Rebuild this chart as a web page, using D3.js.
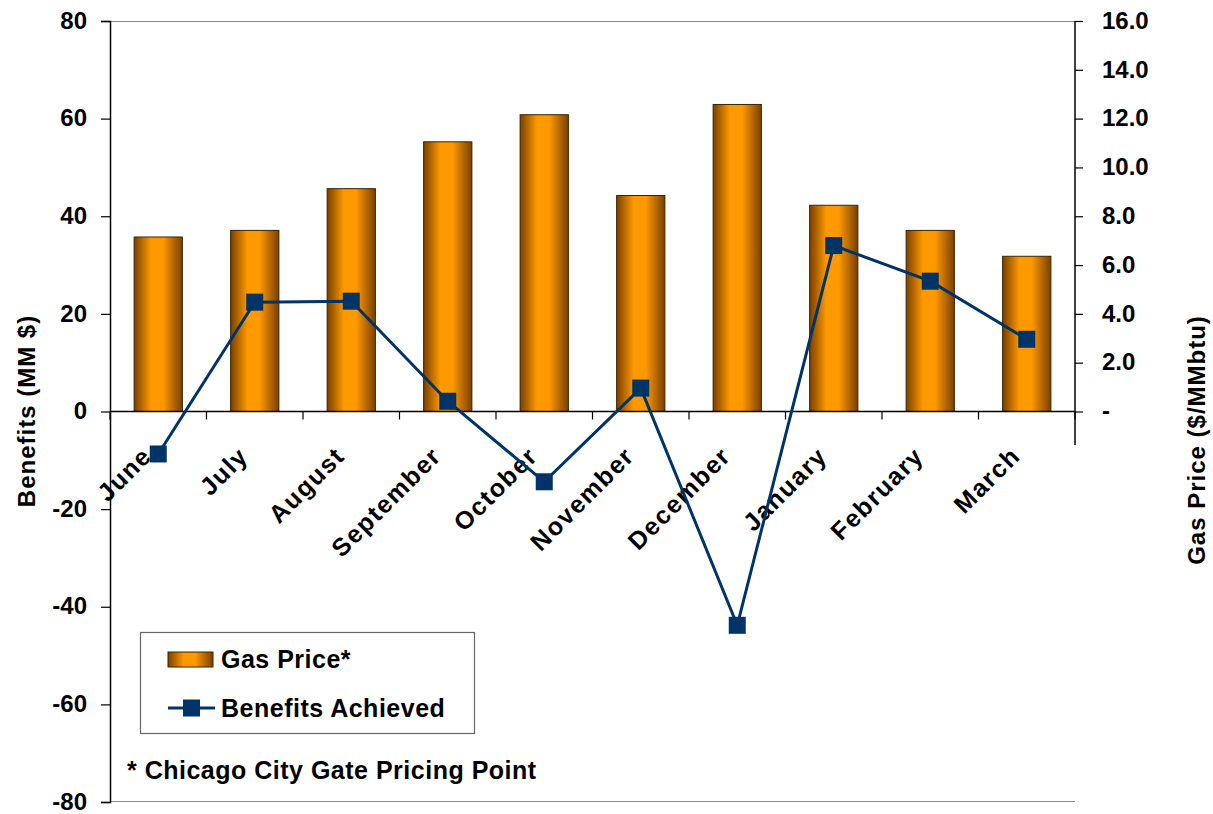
<!DOCTYPE html>
<html><head><meta charset="utf-8">
<script src="https://cdn.jsdelivr.net/npm/d3@7/dist/d3.min.js"></script>
<style>
html,body{margin:0;padding:0;background:#fff;}
text{font-family:"Liberation Sans",Arial,sans-serif;font-weight:bold;fill:#000;}
</style></head>
<body>
<svg id="c" width="1213" height="814"></svg>
<script>
const months = ["June","July","August","September","October","November","December","January","February","March"];
const gasPrice = [7.15, 7.42, 9.13, 11.05, 12.16, 8.85, 12.58, 8.45, 7.42, 6.36];
const benefits = [-8.7, 22.4, 22.6, 2.1, -14.4, 4.8, -43.8, 34.0, 26.7, 14.8];
const leftTicks = [-80,-60,-40,-20,0,20,40,60,80];
const rightTicks = [0,2,4,6,8,10,12,14,16];

const svg = d3.select("#c");
const L = 110, R = 1075, T = 21, B = 802;
const x = d3.scaleBand().domain(months).range([L, R]).padding(0);
const yL = d3.scaleLinear().domain([-80, 80]).range([B, T]);
const yR = d3.scaleLinear().domain([0, 16]).range([yL(0), T]);

const defs = svg.append("defs");
const g1 = defs.append("linearGradient").attr("id","bar").attr("x1","0").attr("x2","1").attr("y1","0").attr("y2","0");
[[0,"#7a4000"],[0.35,"#ff9900"],[0.6,"#ff9900"],[1,"#7a4000"]].forEach(s=>g1.append("stop").attr("offset",s[0]).attr("stop-color",s[1]));

// plot border lines (top/bottom)
svg.append("line").attr("x1",L).attr("x2",R).attr("y1",T+0.5).attr("y2",T+0.5).attr("stroke","#888").attr("stroke-width",1.2);
svg.append("line").attr("x1",L).attr("x2",R).attr("y1",B-0.5).attr("y2",B-0.5).attr("stroke","#888").attr("stroke-width",1.2);

// bars
const bw = x.bandwidth();
svg.append("g").selectAll("rect").data(months).join("rect")
  .attr("x", d => x(d) + bw*0.25)
  .attr("width", bw*0.5)
  .attr("y", (d,i) => yR(gasPrice[i]))
  .attr("height", (d,i) => yR(0) - yR(gasPrice[i]))
  .attr("fill","url(#bar)")
  .attr("stroke","#3a2400").attr("stroke-width",1);

function styleTicks(sel){
  sel.selectAll(".tick text").style("font-size","24px").style("font-family","Liberation Sans, Arial, sans-serif").style("font-weight","bold").attr("fill","#000").attr("dy","0.3em");
  sel.selectAll(".tick line").attr("stroke","#000").attr("stroke-width",1.2);
}
// left axis
const la = svg.append("g").attr("transform",`translate(${L},0)`)
  .call(d3.axisLeft(yL).tickValues(leftTicks).tickSize(9).tickPadding(14).tickFormat(d => String(d)));
la.select(".domain").attr("stroke","#000").attr("stroke-width",1.5);
styleTicks(la);

// right axis
const ra = svg.append("g").attr("transform",`translate(${R},0)`)
  .call(d3.axisRight(yR).tickValues(rightTicks).tickSize(8).tickPadding(19).tickFormat(d => d === 0 ? "-" : d3.format(".1f")(d)));
ra.select(".domain").remove();
ra.append("line").attr("x1",0).attr("x2",0).attr("y1",T).attr("y2",445).attr("stroke","#000").attr("stroke-width",1.5);
styleTicks(ra);

// category axis at 0
const y0 = yL(0);
svg.append("line").attr("x1",L).attr("x2",R).attr("y1",y0).attr("y2",y0).attr("stroke","#000").attr("stroke-width",1.5);
const bounds = d3.range(months.length+1).map(i => L + i*x.step());
svg.append("g").selectAll("line").data(bounds).join("line")
  .attr("x1",d=>d).attr("x2",d=>d).attr("y1",y0).attr("y2",y0+8).attr("stroke","#000").attr("stroke-width",1.2);
svg.append("g").selectAll("text").data(months).join("text")
  .attr("transform", d => `translate(${x(d)+bw/2-5},${y0+46}) rotate(-45)`)
  .attr("text-anchor","end")
  .style("font-size","25px").style("letter-spacing","1.5px")
  .text(d => d);

// line series
const line = d3.line().x((d,i)=>x(months[i])+bw/2).y(d=>yL(d));
svg.append("path").datum(benefits).attr("d", line).attr("fill","none").attr("stroke","#003366").attr("stroke-width",3);
svg.append("g").selectAll("rect").data(benefits).join("rect")
  .attr("x",(d,i)=>x(months[i])+bw/2-8.5).attr("y",d=>yL(d)-8.5)
  .attr("width",17).attr("height",17).attr("fill","#003366");

// axis titles
svg.append("text").attr("transform",`translate(35,411) rotate(-90)`).attr("text-anchor","middle").style("font-size","24px").style("letter-spacing","1px").text("Benefits (MM $)");
svg.append("text").attr("transform",`translate(1205,440) rotate(-90)`).attr("text-anchor","middle").style("font-size","24px").style("letter-spacing","1px").text("Gas Price ($/MMbtu)");

// legend
const lg = svg.append("g");
lg.append("rect").attr("x",140.5).attr("y",632.5).attr("width",334).attr("height",101).attr("fill","#fff").attr("stroke","#666").attr("stroke-width",1.2);
lg.append("rect").attr("x",168).attr("y",652).attr("width",45).attr("height",15).attr("fill","url(#bar)").attr("stroke","#3a2400");
lg.append("text").attr("x",221).attr("y",668).style("font-size","25px").style("letter-spacing","0.5px").text("Gas Price*");
lg.append("line").attr("x1",168).attr("x2",215).attr("y1",708).attr("y2",708).attr("stroke","#003366").attr("stroke-width",3);
lg.append("rect").attr("x",183).attr("y",699.5).attr("width",17).attr("height",17).attr("fill","#003366");
lg.append("text").attr("x",221).attr("y",717).style("font-size","25px").style("letter-spacing","0.5px").text("Benefits Achieved");

svg.append("text").attr("x",127).attr("y",779).style("font-size","25px").style("letter-spacing","0.5px").text("* Chicago City Gate Pricing Point");
</script>
</body></html>
